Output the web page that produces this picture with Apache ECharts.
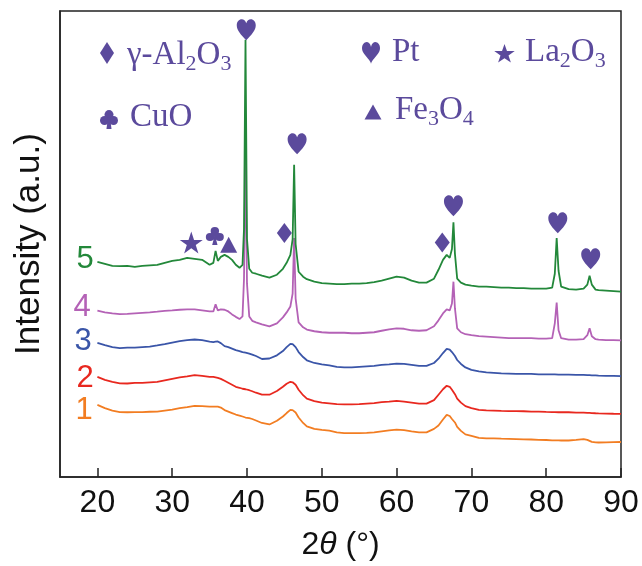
<!DOCTYPE html>
<html><head><meta charset="utf-8">
<script src="https://cdn.jsdelivr.net/npm/echarts@6/dist/echarts.min.js"></script>
<style>html,body{margin:0;padding:0;background:#fff}#c{width:642px;height:566px}</style>
</head><body><div id="c"></div>
<script>
// 2θ sample positions (degrees)
const angles = [
  20, 21, 22, 23, 24, 25, 26, 27, 28, 29,
  30, 31, 32, 33, 34, 35,
  35.5, 35.8, 36.1, 36.5,
  37, 37.5, 38, 38.5, 39,
  39.4, 39.6, 39.8, 40.0, 40.3, 40.7, 41.2,
  42, 43, 44, 44.8, 45.3, 45.8,
  46.1, 46.3, 46.5, 46.9, 47.5,
  48, 49, 50, 51, 52, 53, 54, 55, 56, 57, 58, 59, 60, 61, 62, 63, 64, 65,
  65.6, 66.2, 66.7, 67.1, 67.4, 67.6, 67.8, 68.1, 68.6, 69.2,
  70, 71, 72, 73, 74, 75, 76, 77, 78, 79, 80,
  80.8, 81.15, 81.4, 81.65,
  82, 83, 84, 85,
  85.5, 85.8, 86.1, 86.6,
  87, 88, 89, 90
];
// intensities (arbitrary units, stacked offsets as in the figure)
const sample5 = [
  217, 215, 213, 212.7, 213, 212, 213, 213.5, 214, 216,
  218, 219, 221, 220, 219, 214,
  216, 228, 218, 222,
  224, 222, 219, 214, 211,
  214, 250, 441, 240, 210, 206, 205,
  203, 201, 204, 210, 216, 224,
  240, 315, 235, 207, 202,
  199.5, 197, 195.5, 195, 194.5, 194.5, 195, 195, 195.5, 196.5, 198, 200, 202, 201, 198, 196, 196, 200,
  209, 219, 224, 221, 230, 257, 225, 200, 196, 194,
  193, 192, 192, 191.5, 191, 191, 190.5, 190.5, 190, 190, 190,
  191, 205, 241, 208,
  192, 189.5, 189, 190,
  194, 203, 194, 189,
  188.5, 188, 187.5, 187
];
const sample4 = [
  167.7, 166, 165, 164.3, 164.5, 165, 165.5, 166, 166.7, 167.5,
  168, 168.7, 169, 169, 168, 167,
  167, 174.3, 168, 169,
  168.7, 167, 164, 161.5, 159.3,
  162, 200, 335, 195, 162, 157.5, 156,
  154, 152, 155, 161, 166, 172,
  185, 241, 180, 156, 151,
  148.7, 147, 146, 145.5, 145.5, 145.5, 145, 145, 145.5, 146, 147.5, 149, 150, 149.5, 148, 147.5, 148, 152,
  158, 165, 169, 168, 175, 197, 170, 150, 146, 144,
  143, 142, 141.5, 141, 140.5, 140, 140, 140, 140, 139.5, 139.5,
  140, 155, 176, 148,
  140, 138.5, 138.5, 139,
  143, 150, 142, 139,
  138.5, 138, 138, 137.7
];
const sample3 = [
  135.3, 133, 131, 130, 130.5, 130.5, 131, 131.5, 132.7, 134,
  135.5, 137, 138, 138.7, 138, 136.5,
  136, 136.5, 136.7, 135,
  132, 131, 129.5, 128, 127,
  126, 126, 125.5, 125, 124.5, 123.5, 122,
  119, 119.5, 122.7, 127, 131, 134.3,
  134, 133, 131, 126, 121,
  117.7, 115, 113.5, 112.5, 111, 110.5, 110.5, 111, 111.5, 112, 113, 113.5, 114.3, 114, 113, 112, 112, 115,
  119.3, 125, 129.3, 128.5, 126, 124.3, 122, 118, 114, 110.5,
  108, 106.5, 105.5, 105, 104.5, 104.3, 104, 104, 104, 103.5, 103.5,
  103.5, 103.5, 103.3, 103.3,
  103.3, 103.3, 103, 103,
  102.7, 102.7, 102.5, 102.5,
  102.3, 102, 102, 101.7
];
const sample2 = [
  101, 98, 96, 94.5, 94.3, 95, 95, 95.5, 96, 97.5,
  99, 100.5, 101.5, 102.7, 102, 101,
  101, 100.5, 100, 99,
  97, 95, 93, 91, 90,
  89, 88.7, 88.5, 88, 87.5, 86.5, 85,
  83, 83, 86.7, 91, 94, 96,
  95.5, 94.5, 93, 88, 82.5,
  79, 76.5, 75, 74.3, 73.5, 73.3, 73.3, 73.5, 74, 74.5, 75.5, 76, 76.7, 76, 75, 74, 74, 77.5,
  83, 88.5, 92, 91, 88, 86, 83.5, 79, 75, 71.5,
  69.5, 67.7, 67.2, 67, 66.7, 66.5, 66.5, 66.3, 66, 66, 65.7,
  65.5, 65.5, 65.5, 65.3,
  65.3, 65.3, 65, 65,
  64.7, 64.7, 64.5, 64.3,
  64.2, 64, 63.8, 63.7
];
const sample1 = [
  72.7, 69.5, 67, 65.5, 65.3, 65.5, 65.5, 65.8, 66, 67,
  68, 69.5, 70.5, 71.7, 71.5, 71,
  71, 71, 71, 70,
  67.5, 66, 64.5, 63, 62,
  61, 60.5, 60, 59.5, 59.3, 58.5, 57,
  54.5, 53, 56.7, 61, 64.5, 67.7,
  67.5, 66.5, 65, 60, 54.5,
  51, 48.5, 47.5, 46.7, 45, 44.3, 44.3, 44.3, 44.5, 45, 46, 47, 47.7, 47.2, 46, 45, 45, 48.5,
  52, 58, 62.7, 61.5, 58.5, 57, 55, 50.5, 46.5, 43,
  41.5, 39.5, 39, 39, 38.7, 38.5, 38.3, 38, 37.8, 37.5, 37.3,
  37, 37, 37, 37,
  36.8, 36.8, 37.5, 38.3,
  37.5, 36.5, 35.5, 35,
  34.8, 35, 35.2, 35.3
];
const sampleNames = ['1', '2', '3', '4', '5'];
const xTickValues = [20, 30, 40, 50, 60, 70, 80, 90];

// phase markers placed above the peaks [2θ, intensity]
const heartMarks = [[39.9, 451], [46.7, 336], [67.6, 273.5], [81.55, 256.5], [85.95, 220]];
const diamondMarks = [[45.0, 246], [66.1, 236.5]];
const starMarks = [[32.55, 236.5]];
const clubMarks = [[35.7, 243]];
const triangleMarks = [[37.55, 234.3]];

const colors = ['#f27d22', '#e8281f', '#3a55a8', '#b462b6', '#23883a'];
const markColor = '#5b4a9c';

const HEART = 'path://M50,95 C22,70 0,50 0,27 C0,11 12,0 26,0 C37,0 46,7 50,18 C54,7 63,0 74,0 C88,0 100,11 100,27 C100,50 78,70 50,95 Z';
const STAR = 'path://M50,0 L61.8,35.3 L98.9,35.3 L69,57.2 L80.4,92.7 L50,71 L19.6,92.7 L31,57.2 L1.1,35.3 L38.2,35.3 Z';
const CLUB = 'path://M50,1 A22,22 0 1,1 49.9,1 Z M25,34 A22,22 0 1,1 24.9,34 Z M75,34 A22,22 0 1,1 74.9,34 Z M42,40 L58,40 L58,62 L50,62 Z M47,55 L53,55 L64,100 L36,100 Z';
const DIAMOND = 'path://M50,0 L100,50 L50,100 L0,50 Z';
const TRIANGLE = 'path://M50,0 L100,100 L0,100 Z';

const curves = [sample1, sample2, sample3, sample4, sample5];
const series = curves.map((vals, i) => ({
  name: sampleNames[i],
  type: 'line',
  data: angles.map((a, j) => [a, vals[j]]),
  showSymbol: false,
  symbol: 'none',
  lineStyle: { color: colors[i], width: 1.8 },
  z: 2 + i,
  silent: true
}));
function markSeries(data, symbol, size) {
  return { type: 'scatter', data: data, symbol: symbol, symbolSize: size,
    itemStyle: { color: markColor, opacity: 1 }, z: 20, silent: true };
}
series.push(markSeries(heartMarks, HEART, [19, 21]));
series.push(markSeries(diamondMarks, DIAMOND, [15, 20]));
series.push(markSeries(starMarks, STAR, [23, 22]));
series.push(markSeries(clubMarks, CLUB, [18, 18]));
series.push(markSeries(triangleMarks, TRIANGLE, [17, 16]));

const serif = '"Liberation Serif", "Times New Roman", serif';
const richLegend = {
  m: { fontSize: 33, fontFamily: serif, color: markColor, lineHeight: 40 },
  s: { fontSize: 22, fontFamily: serif, color: markColor, lineHeight: 20, verticalAlign: 'bottom' }
};
function legendText(txt, x, y) {
  return { type: 'text', x: x, y: y, silent: true, z: 30,
    style: { text: txt, rich: richLegend, fill: markColor, align: 'left', verticalAlign: 'top' } };
}
// legend icon shapes (icon geometry in a 0..100 box, scaled into w x h)
function poly(pts, x, y, w, h) {
  return { type: 'polygon', silent: true, z: 30,
    shape: { points: pts.map(p => [x + p[0] * w / 100, y + p[1] * h / 100]) },
    style: { fill: markColor } };
}
const DIAMOND_PTS = [[50, 0], [100, 50], [50, 100], [0, 50]];
const TRI_PTS = [[50, 0], [100, 100], [0, 100]];
const STAR_PTS = [[50, 0], [61.8, 35.3], [98.9, 35.3], [69, 57.2], [80.4, 92.7], [50, 71], [19.6, 92.7], [31, 57.2], [1.1, 35.3], [38.2, 35.3]];
function heartPts() {
  const pts = [];
  for (let k = 0; k < 64; k++) {
    const t = k / 64 * Math.PI * 2;
    const hx = 16 * Math.pow(Math.sin(t), 3);
    const hy = 13 * Math.cos(t) - 5 * Math.cos(2 * t) - 2 * Math.cos(3 * t) - Math.cos(4 * t);
    pts.push([50 + hx / 16 * 50, (12 - hy) / 29 * 100]);
  }
  return pts;
}
function club(x, y, w, h) {
  const r = w * 0.25;
  const c = (cx, cy) => ({ type: 'circle', silent: true, z: 30,
    shape: { cx: x + cx * w / 100, cy: y + cy * h / 100, r: r }, style: { fill: markColor } });
  return [c(50, 24), c(25, 55), c(75, 55),
    poly([[44, 40], [56, 40], [64, 100], [36, 100]], x, y, w, h)];
}
const sans = '"Liberation Sans", Arial, sans-serif';
function curveLabel(t, x, y, c) {
  return { type: 'text', x: x, y: y, silent: true, z: 30,
    style: { text: t, fill: c, font: '31px ' + sans, align: 'center', verticalAlign: 'middle' } };
}

const chart = echarts.init(document.getElementById('c'), null, { renderer: 'canvas' });
chart.setOption({
  animation: false,
  backgroundColor: '#fff',
  grid: { left: 60, right: 21, top: 11, bottom: 85, show: true, borderColor: '#222', borderWidth: 1.5, backgroundColor: 'transparent' },
  xAxis: {
    type: 'value', min: 15, max: 90,
    axisLine: { show: true, lineStyle: { color: '#222', width: 1.5 } },
    axisTick: { show: true, inside: true, length: 9, customValues: xTickValues, lineStyle: { color: '#222', width: 1.5 } },
    axisLabel: { customValues: xTickValues, fontSize: 32, fontFamily: sans, color: '#111', margin: 10 },
    splitLine: { show: false },
    name: '2{i|θ} (°)', nameLocation: 'middle', nameGap: 52,
    nameTextStyle: { fontSize: 32, fontFamily: sans, color: '#111',
      rich: { i: { fontSize: 32, fontFamily: sans, fontStyle: 'italic', color: '#111' } } }
  },
  yAxis: {
    type: 'value', min: 0, max: 470,
    axisLine: { show: true, lineStyle: { color: '#222', width: 1.5 } },
    axisTick: { show: false }, axisLabel: { show: false }, splitLine: { show: false },
    name: 'Intensity (a.u.)', nameLocation: 'middle', nameGap: 13,
    nameTextStyle: { fontSize: 35, fontFamily: sans, color: '#111' }
  },
  series: series,
  graphic: [
    poly(DIAMOND_PTS, 100, 42, 14, 22),
    legendText('{m|γ-Al}{s|2}{m|O}{s|3}', 127, 35),
    ...club(100, 110, 18, 19),
    legendText('{m|CuO}', 130, 97),
    poly(heartPts(), 362, 42, 18, 22),
    legendText('{m|Pt}', 392, 32),
    poly(STAR_PTS, 494, 44, 21, 20),
    legendText('{m|La}{s|2}{m|O}{s|3}', 525, 32),
    poly(TRI_PTS, 364.5, 104.5, 17, 15),
    legendText('{m|Fe}{s|3}{m|O}{s|4}', 395, 90),
    curveLabel('5', 85, 259, colors[4]),
    curveLabel('4', 82, 307, colors[3]),
    curveLabel('3', 83, 341, colors[2]),
    curveLabel('2', 85, 378, colors[1]),
    curveLabel('1', 84, 410, colors[0])
  ]
});
</script>
</body></html>
